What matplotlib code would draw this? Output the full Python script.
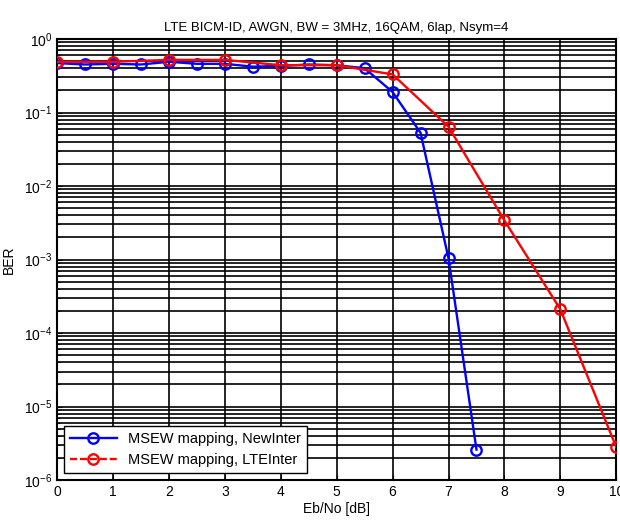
import matplotlib
matplotlib.use("Agg")
import matplotlib.pyplot as plt
from matplotlib.lines import Line2D
import numpy as np

ebno_new = [0, 0.5, 1, 1.5, 2, 2.5, 3, 3.5, 4, 4.5, 5, 5.5, 6, 6.5, 7, 7.5]
ber_new = [0.47, 0.45, 0.46, 0.45, 0.49, 0.46, 0.46, 0.42, 0.43, 0.45, 0.44, 0.40, 0.19, 0.053, 1.04e-3, 2.6e-6]
ebno_lte = [0, 1, 2, 3, 4, 5, 6, 7, 8, 9, 10]
ber_lte = [0.49, 0.49, 0.52, 0.52, 0.44, 0.44, 0.33, 0.064, 3.4e-3, 2.1e-4, 2.8e-6]
labels = ['MSEW mapping, NewInter', 'MSEW mapping, LTEInter']

plt.rcParams['font.family'] = ['Liberation Sans', 'DejaVu Sans']

fig = plt.figure(figsize=(6.2, 5.27), dpi=100)
ax = fig.add_axes([0.092, 0.089, 0.902, 0.837])

ax.semilogy(ebno_new, ber_new, color='#0000ff', lw=1.7, marker='o', ms=7.5,
            mfc='none', mec='#0000ff', mew=1.7, zorder=3)
ax.semilogy(ebno_lte, ber_lte, color='#ff0000', lw=1.7, ls='-', marker='o', ms=7.5,
            mfc='none', mec='#ff0000', mew=1.7, zorder=3)

h1 = Line2D([], [], color='#0000ff', lw=1.7, marker='o', ms=7.5, mfc='none', mew=1.7)
h2 = Line2D([], [], color='#ff0000', lw=1.7, ls=(0, (3, 1.2)), marker='o', ms=7.5, mfc='none', mew=1.7)

ax.set_xlim(0, 10)
ax.set_ylim(1e-6, 1)
ax.set_xticks(range(0, 11))
ax.grid(True, which='major', color='black', lw=1.2, ls='-')
ax.grid(True, which='minor', axis='y', color='black', lw=1.2, ls='-')
for s in ax.spines.values():
    s.set_linewidth(1.5)
ax.tick_params(which='both', direction='in', labelsize=10)
ax.set_xlabel('Eb/No [dB]', fontsize=10, labelpad=2)
ax.set_ylabel('BER', fontsize=10, labelpad=6)
ax.set_title('LTE BICM-ID, AWGN, BW = 3MHz, 16QAM, 6lap, Nsym=4', fontsize=9.5)
leg = ax.legend([h1, h2], labels, loc='lower left', fontsize=10.5, fancybox=False, framealpha=1,
                edgecolor='black', borderaxespad=0.5, handlelength=3.2)
leg.get_frame().set_linewidth(1.0)

fig.savefig('out.png', dpi=100)
